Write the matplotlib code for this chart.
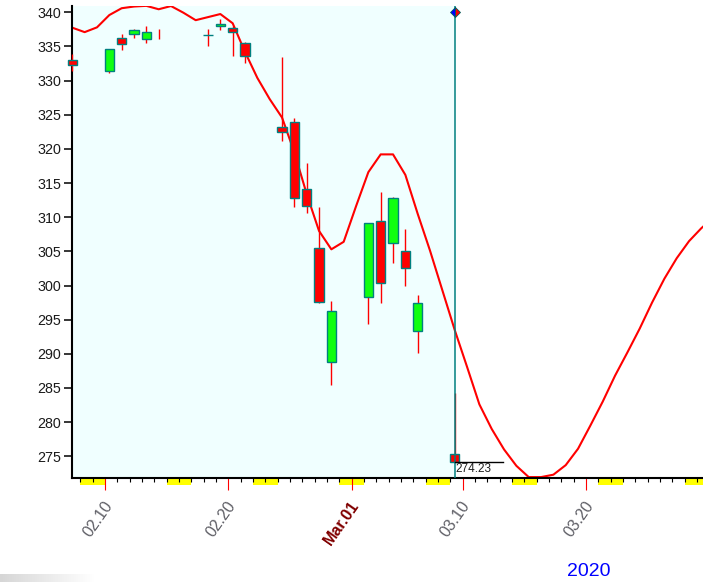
import matplotlib
matplotlib.use('Agg')
import matplotlib.pyplot as plt
import matplotlib.dates as mdates
import matplotlib.transforms as mtransforms
from matplotlib.patches import Rectangle
import numpy as np
import pandas as pd

plt.rcParams['font.family'] = ['Liberation Sans', 'DejaVu Sans']

nan = np.nan
# ---- candle data ----
candle_dates = ['2020-02-07', '2020-02-10', '2020-02-11', '2020-02-12', '2020-02-13',
                '2020-02-14', '2020-02-18', '2020-02-19', '2020-02-20', '2020-02-21',
                '2020-02-24', '2020-02-25', '2020-02-26', '2020-02-27', '2020-02-28',
                '2020-03-02', '2020-03-03', '2020-03-04', '2020-03-05', '2020-03-06',
                '2020-03-09']
opens = [332.95, 331.4, 336.2, 336.9, 336.05, nan, 336.68, 337.95, 337.66, 335.46,
         323.2, 323.9, 314.1, 305.45, 288.75, 298.27, 309.4, 306.18, 305.0, 293.3, 275.4]
highs = [333.9, 334.6, 336.82, 337.55, 338.0, 337.55, 337.5, 338.98, 338.0, 335.7,
         333.45, 324.48, 317.9, 311.45, 297.73, 309.11, 313.74, 312.96, 308.27, 298.61, 284.2]
lows = [331.4, 331.16, 334.48, 336.28, 335.55, 336.13, 335.1, 337.4, 333.6, 332.53,
        321.2, 311.54, 310.66, 297.5, 285.43, 294.36, 297.48, 303.25, 299.97, 290.16, 274.2]
closes = [332.35, 334.6, 335.3, 337.4, 337.07, nan, 336.68, 338.3, 337.07, 333.6,
          322.55, 312.77, 311.64, 297.63, 296.22, 309.11, 300.32, 312.77, 302.52, 297.39, 274.23]

# ---- smoothed cycle curve (daily) ----
curve_start = '2020-02-07'
curve_values = [337.75, 337.1, 337.8, 339.6, 340.6, 340.85, 340.95, 340.45, 340.92, 339.95,
                338.85, 339.3, 339.75, 338.4, 334.2, 330.4, 327.3, 324.6, 319.5, 313.4,
                308.0, 305.3, 306.4, 311.6, 316.6, 319.2, 319.2, 316.2, 310.5, 305.1,
                299.3, 293.5, 288.1, 282.6, 279.0, 276.0, 273.6, 271.95, 271.95, 272.3,
                273.7, 276.1, 279.5, 283.0, 286.8, 290.2, 293.7, 297.5, 301.0, 304.0,
                306.5, 308.4, 310.0]

# ---- axis labels ----
label_dates = ['2020-02-10', '2020-02-20', '2020-03-01', '2020-03-10', '2020-03-20']
label_texts = ['02.10', '02.20', 'Mar.01', '03.10', '03.20']
yticks = list(range(275, 341, 5))
cursor_date = '2020-03-09'
cursor_value = 274.23
year_text = '2020'

W, H = 703, 582
fig = plt.figure(figsize=(W / 100, H / 100), dpi=100)
ax_l, ax_r, ax_b, ax_t = 71.7, 703, 477.7, 5.5
ax = fig.add_axes([ax_l / W, 1 - ax_b / H, (ax_r - ax_l) / W, (ax_b - ax_t) / H])
ax.set_facecolor('white')

NODE = 0.35  # candles sit a little right of the day tick
cd = mdates.date2num(pd.to_datetime(candle_dates)) + NODE
xd0 = mdates.date2num(pd.Timestamp('2020-02-10'))
xlim = (xd0 - 2.70, xd0 + 48.48)
ax.set_xlim(*xlim)
ax.set_ylim(271.86, 341.0)

cur_x = mdates.date2num(pd.Timestamp(cursor_date)) + NODE
ax.axvspan(xlim[0], cur_x, color='#F0FFFF', zorder=0, lw=0)

# curve
cdates = mdates.date2num(pd.date_range(curve_start, periods=len(curve_values), freq='D')) + NODE
ax.plot(cdates, curve_values, color='#FF0000', lw=1.5, zorder=2)

# candles
bw = 0.74
for x, o, h, l, c in zip(cd, opens, highs, lows, closes):
    ax.plot([x, x], [l, h], color='#FF0000', lw=1.0, zorder=3, solid_capstyle='butt',
            clip_on=False)
    if np.isnan(o):
        continue
    lo, hi = min(o, c), max(o, c)
    fc = '#10FF10' if c > o else '#FF0000'
    ax.add_patch(Rectangle((x - bw / 2, lo), bw, hi - lo, facecolor=fc,
                           edgecolor='#008080', lw=1.0, zorder=4, clip_on=False))

# cursor line + marker
ax.axvline(cur_x, color='#008080', lw=1.1, zorder=5)
ax.plot([cur_x], [340.0], marker='D', ms=5.2, fillstyle='left',
        markerfacecolor='#0000FF', markerfacecoloralt='#FF0000',
        markeredgecolor='#006060', markeredgewidth=0.6, zorder=6, clip_on=False)
ax.plot([cur_x, cur_x + 3.9], [cursor_value, cursor_value], color='black', lw=1.0, zorder=5)
ax.text(cur_x + 0.05, cursor_value - 0.25, f'{cursor_value:.2f}', fontsize=8.5,
        color='#202020', ha='left', va='top', zorder=6)

# spines
for s in ['top', 'right']:
    ax.spines[s].set_visible(False)
ax.spines['left'].set_linewidth(1.5)
ax.spines['bottom'].set_linewidth(1.5)

# y ticks
ax.set_yticks(yticks)
ax.tick_params(axis='y', length=6.1, width=1.1, pad=1.5, labelsize=10.3, labelcolor='#1a1a1a')

# x ticks
major = mdates.date2num(pd.to_datetime(label_dates))
ax.set_xticks(major)
ax.set_xticklabels([])
ax.xaxis.set_minor_locator(mdates.DayLocator())
ax.tick_params(axis='x', which='major', length=8.6, width=0.8, color='#FF0000', direction='out')
ax.tick_params(axis='x', which='minor', length=2.9, width=0.8, color='black', direction='out')

# weekend yellow blocks under axis
trans_x = mtransforms.blended_transform_factory(ax.transData, ax.transAxes)
day_range = pd.date_range('2020-02-07', '2020-03-31', freq='D')
yh = 7.0 / (ax_b - ax_t)
for d in day_range:
    if d.weekday() == 5:
        x0 = mdates.date2num(d)
        r = Rectangle((x0, -yh), 2.0, yh, transform=trans_x, facecolor='#FFFF00',
                      edgecolor='none', clip_on=False, zorder=1)
        ax.add_patch(r)
ax.set_xlim(*xlim)

# rotated date labels
off = mtransforms.ScaledTranslation(0, -25 / 100, fig.dpi_scale_trans)
for d, t in zip(label_dates, label_texts):
    x = mdates.date2num(pd.Timestamp(d)) + NODE
    is_month = t.startswith('Mar')
    ax.text(x, 0, t, transform=trans_x + off, rotation=55, rotation_mode='anchor',
            ha='right', va='center', fontsize=11.5,
            color='#800000' if is_month else '#5f5f66',
            fontweight='bold' if is_month else 'normal', clip_on=False)

fig.text(589 / W, 1 - 572 / H, year_text, fontsize=14, color='#0000FF', ha='center', va='center')

# faint shadow in the lower-left corner
sh = fig.add_axes([0, 0, 95 / W, 8 / H])
grad = np.linspace(0.84, 1.0, 64)[None, :]
sh.imshow(np.dstack([grad, grad, grad]), aspect='auto', extent=(0, 1, 0, 1))
sh.axis('off')

fig.savefig('out.png', dpi=100)
